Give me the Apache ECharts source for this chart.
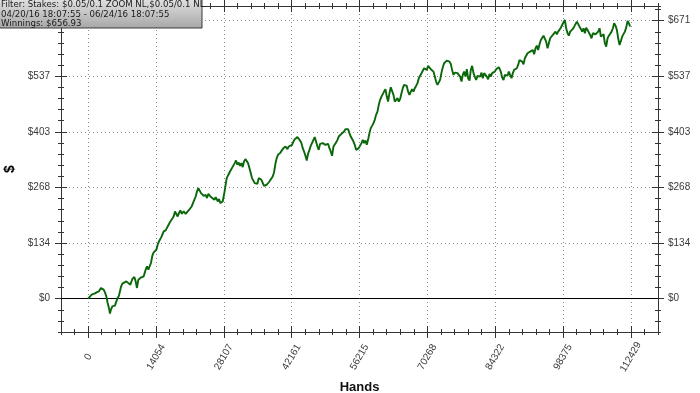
<!DOCTYPE html>
<html>
<head>
<meta charset="utf-8">
<script src="https://cdn.jsdelivr.net/npm/echarts@6/dist/echarts.min.js"></script>
<style>html,body{margin:0;padding:0;background:#fff;}#c{width:700px;height:393px;}</style>
</head>
<body>
<div id="c"></div>
<script>
// ---- data ----
const hands = [
0,166,725,1285,1762,2238,2653,2943,3212,3482,
3772,4041,4311,4518,4725,5015,5285,5554,5844,6114,
6383,6798,7088,7502,7917,8331,8746,9160,9575,9844,
10114,10404,10819,11233,11502,11917,12186,12476,12746,13015,
13305,13575,13844,14134,14404,14673,14963,15233,15647,16062,
16476,16746,17036,17305,17720,17989,18279,18549,18818,19108,
19378,19792,20207,20621,21036,21450,21865,22279,22549,22839,
23108,23378,23668,23937,24352,24621,24911,25326,25740,26155,
26424,26839,27108,27398,27875,28145,28435,28704,28974,29389,
29678,30010,30362,30632,30922,31191,31461,31751,32020,32290,
32580,32849,33119,33409,33678,33948,34238,34507,34777,35067,
35336,35606,35896,36165,36435,36725,36994,37264,37554,37968,
38238,38507,38797,39067,39336,39751,40041,40455,40870,41284,
41554,41968,42238,42528,42797,43067,43357,43626,43896,44186,
44455,44725,45015,45284,45554,45844,46113,46383,46673,46942,
47212,47502,47771,48041,48331,48600,48870,49160,49429,49699,
49989,50258,50528,50818,51087,51357,51647,51916,52186,52476,
52745,53015,53305,53574,53844,54134,54403,54673,54963,55232,
55502,55792,56061,56331,56621,56890,57160,57450,57719,57989,
58279,58548,58818,59108,59377,59647,59937,60206,60476,60766,
61035,61305,61595,61864,62134,62424,62693,62963,63253,63522,
63792,64082,64351,64621,64911,65180,65450,65740,66009,66279,
66569,66838,67108,67398,67667,67937,68227,68496,68766,69056,
69325,69595,69885,70154,70424,70714,70983,71253,71543,71812,
72082,72372,72641,72911,73201,73470,73740,74030,74299,74569,
74859,75128,75398,75688,75957,76227,76517,76786,77056,77346,
77615,77885,78175,78444,78714,79004,79273,79543,79833,80102,
80372,80662,80931,81201,81491,81760,82030,82320,82589,82859,
83149,83418,83688,83978,84247,84517,84807,85076,
85491,85760,86050,86320,86589,86879,87149,87418,87708,87978,
88247,88537,88807,89076,89366,89636,89905,90195,90465,90734,
91024,91294,91563,91853,92123,92392,92682,92952,93221,93511,
93781,94050,94340,94610,94879,95169,95439,95708,95998,96268,
96537,96827,97097,97366,97656,97926,98195,98485,98755,99024,
99314,99584,99853,100143,100413,100682,100972,101242,101511,101801,
102071,102340,102630,102900,103169,103459,103729,103998,104288,104558,
104827,105117,105387,105656,105946,106216,106485,106775,107045,107314,
107604,107874,108143,108433,108703,108972,109262,109532,109801,110091,
110361,110630,110920,111190,111459,111749,112019,112289
];
const winnings = [
0,1.7,9.6,12.1,15.2,17.6,25.8,28.2,21.7,15.2,
5.5,-10.4,-22.4,-36.2,-26.5,-18.6,-14.5,-16.9,-6.5,1.7,
7.2,28.2,36.2,33.8,41.7,37.9,33.8,47.5,52.3,41.7,
25.8,45.8,49.9,45.8,53.8,69.9,77.9,69.9,74.0,86.1,
103.7,111.6,114.0,118.1,130.2,138.1,140.6,150.2,162.3,164.7,
174.3,178.4,186.4,190.5,198.4,210.5,208.1,198.4,206.6,212.9,
204.9,210.5,204.9,210.5,216.3,222.5,234.6,246.6,258.7,266.9,
264.5,254.8,256.3,248.3,250.7,242.8,253.2,246.6,250.7,238.7,
245.2,234.6,240.4,230.7,234.6,250.7,270.8,291.0,294.9,306.9,
312.7,317.5,327.2,333.4,323.1,328.6,320.7,327.2,317.5,331.0,
336.8,335.1,327.2,315.1,303.1,291.0,286.9,278.9,282.8,277.3,
291.0,294.9,286.9,282.8,272.4,269.3,274.9,277.3,282.8,286.9,
294.9,304.5,325.5,339.2,347.2,351.3,355.1,363.3,367.2,360.9,
367.2,365.7,371.3,379.2,385.0,383.3,389.9,391.3,381.7,375.4,
363.3,355.1,344.8,333.4,349.6,359.2,368.9,371.3,383.3,389.9,
379.2,367.2,359.2,373.7,376.8,375.4,379.2,371.3,367.2,373.7,
363.3,355.1,344.8,367.2,367.2,376.8,383.3,391.3,393.0,397.8,
399.5,403.4,409.1,405.8,409.1,399.5,391.3,387.4,379.2,371.3,
359.2,355.1,363.3,367.2,375.4,383.3,375.4,381.7,371.3,383.3,
399.5,411.6,417.1,423.6,431.6,443.6,451.6,467.7,479.8,487.7,
483.9,499.8,505.6,487.7,475.7,495.9,510.4,508.0,491.8,475.7,
478.1,483.9,475.7,481.5,495.9,508.0,516.0,520.1,513.5,499.8,
491.8,499.8,505.6,499.8,508.0,513.5,520.1,532.1,536.0,544.2,
548.0,556.2,558.6,552.1,561.8,560.1,553.8,558.6,548.0,536.0,
523.9,516.0,518.4,528.0,545.6,558.6,568.3,564.2,574.5,577.9,
572.1,566.6,552.1,540.1,545.6,550.4,544.2,545.6,536.0,523.9,
540.1,548.0,536.0,553.8,532.1,526.3,552.1,561.8,544.2,536.0,
528.0,537.7,540.1,536.0,545.6,532.1,544.2,548.0,536.0,529.7,
542.5,536.0,544.2,540.1,548.0,553.8,556.2,558.6,
548.0,533.6,528.0,540.1,544.2,538.4,548.0,540.1,532.1,544.2,
552.1,548.0,556.2,564.2,576.2,580.3,572.1,565.9,580.3,584.2,
592.4,588.3,596.2,592.4,600.3,590.0,604.4,610.7,600.3,614.1,
624.4,628.5,634.8,638.2,620.4,604.4,616.5,628.5,632.4,636.5,
640.6,644.5,638.2,644.5,648.6,654.1,660.6,667.1,672.7,652.7,
640.6,634.8,644.5,640.6,651.0,656.5,658.9,668.6,672.7,656.5,
651.0,644.5,652.7,640.6,654.1,648.6,652.7,636.5,628.5,640.6,
644.5,638.2,634.8,644.5,652.7,632.4,628.5,638.2,616.5,608.3,
628.5,634.8,636.5,644.5,652.7,664.7,658.9,648.6,628.5,612.4,
622.0,632.4,636.5,644.5,654.1,670.3,664.7,656.93
];
const xTickValues = [0, 14053.625, 28107.25, 42160.875, 56214.5, 70268.125, 84321.75, 98375.375, 112429];
const xTickLabels = ['0','14054','28107','42161','56215','70268','84322','98375','112429'];
const yTickValues = [0, 134.2, 268.4, 402.6, 536.8, 671];
const yTickLabels = ['$0','$134','$268','$403','$537','$671'];
const titleLines = [
  'Filter: Stakes: $0.05/0.1 ZOOM NL,$0.05/0.1 NL',
  '04/20/16 18:07:55 - 06/24/16 18:07:55',
  'Winnings: $656.93'
];

// ---- axis extents ----
const X_MINOR = 2810.725, X_MIN = -2 * X_MINOR, X_MAX = 42 * X_MINOR;
const Y_MINOR = 26.84, Y_MIN = -3 * Y_MINOR, Y_MAX = 706.4;

const AX = '#333';
const LBL = '#3a3a3a';
const FONT = '"Liberation Sans", Arial, sans-serif';

function baseX(pos) {
  return { type:'value', position:pos, min:X_MIN, max:X_MAX,
    axisLine:{show:false,onZero:false}, axisTick:{show:false},
    axisLabel:{show:false}, splitLine:{show:false}, silent:true };
}
function baseY(pos) {
  return { type:'value', position:pos, min:Y_MIN, max:Y_MAX,
    axisLine:{show:false,onZero:false}, axisTick:{show:false},
    axisLabel:{show:false}, splitLine:{show:false}, silent:true };
}
function tickSet(base, pos, withLine) {
  const out = [];
  const a = base(pos);
  a.axisTick = {show:true, customValues: null, length:6, inside:false, lineStyle:{color:AX,width:1}};
  if (withLine) a.axisLine = {show:true,onZero:false,lineStyle:{color:AX,width:1}};
  out.push(a);
  const b = base(pos);
  b.axisTick = {show:true, customValues: null, length:6, inside:true, lineStyle:{color:AX,width:1}};
  out.push(b);
  const c = base(pos);
  c.axisTick = {show:true, length:3, inside:false, lineStyle:{color:AX,width:1}};
  out.push(c);
  const d = base(pos);
  d.axisTick = {show:true, length:3, inside:true, lineStyle:{color:AX,width:1}};
  out.push(d);
  return out;
}

// X axes
const xAxes = [];
const xb = tickSet(baseX, 'bottom', true);
const xt = tickSet(baseX, 'top', true);
[xb, xt].forEach(set => {
  set[0].axisTick.customValues = xTickValues;
  set[1].axisTick.customValues = xTickValues;
  set[2].interval = X_MINOR;
  set[3].interval = X_MINOR;
});
xb[0].axisLabel = {show:true, customValues:xTickValues, rotate:60, align:'center', verticalAlign:'middle',
  margin:25, fontSize:10, color:LBL, fontFamily:FONT,
  formatter: v => xTickLabels[Math.round(v / xTickValues[1])]};
xb[0].splitLine = {show:true, lineStyle:{color:'#888', width:1, type:[1,3]}};
xb[0].name = 'Hands';
xb[0].nameLocation = 'middle';
xb[0].nameGap = 48;
xb[0].nameTextStyle = {fontSize:13, fontWeight:'bold', color:'#111', fontFamily:FONT};
xAxes.push(...xb, ...xt);

// Y axes
const yAxes = [];
const yl = tickSet(baseY, 'left', true);
const yr = tickSet(baseY, 'right', true);
[yl, yr].forEach(set => {
  set[0].axisTick.customValues = yTickValues;
  set[1].axisTick.customValues = yTickValues;
  set[2].interval = Y_MINOR;
  set[3].interval = Y_MINOR;
});
yl[0].axisLabel = {show:true, customValues:yTickValues, margin:11, fontSize:10, color:LBL, fontFamily:FONT,
  formatter: v => yTickLabels[Math.round(v / yTickValues[1])]};
yl[0].splitLine = {show:true, lineStyle:{color:'#888', width:1, type:[1,3]}};
yl[0].name = '$';
yl[0].nameLocation = 'middle';
yl[0].nameGap = 42;
yl[0].nameRotate = 90;
yl[0].nameTextStyle = {fontSize:14, fontWeight:'bold', color:'#000', fontFamily:FONT};
yr[0].axisLabel = {show:true, customValues:yTickValues, margin:10, fontSize:10, color:LBL, fontFamily:FONT,
  formatter: v => yTickLabels[Math.round(v / yTickValues[1])]};
yr[0].name = '$';
yr[0].nameLocation = 'middle';
yr[0].nameGap = 36;
yr[0].nameRotate = 90;
yr[0].nameTextStyle = {fontSize:14, fontWeight:'bold', color:'#c0501a', fontFamily:FONT};
yAxes.push(...yl, ...yr);

const seriesData = hands.map((h, i) => [h, winnings[i]]);

const chart = echarts.init(document.getElementById('c'), null, {renderer:'canvas'});
chart.setOption({
  animation:false,
  backgroundColor:'#ffffff',
  grid:{left:61, right:42, top:6, bottom:61, containLabel:false, outerBoundsMode:'none'},
  xAxis:xAxes,
  yAxis:yAxes,
  series:[{
    type:'line', xAxisIndex:0, yAxisIndex:0, data:seriesData,
    showSymbol:false, symbol:'none', sampling:null, z:5,
    lineStyle:{color:'#0a670a', width:1.9},
    markLine:{silent:true, symbol:'none', animation:false, label:{show:false},
      lineStyle:{color:'#000', width:1, type:'solid'}, data:[{yAxis:0}]}
  }],
  graphic:[
    {type:'rect', z:100, shape:{x:-1, y:-1, width:203, height:29},
      style:{fill:new echarts.graphic.LinearGradient(0,0,0,1,[{offset:0,color:'#e2e2e2'},{offset:1,color:'#a6a6a6'}]),
      stroke:'#3a3a3a', lineWidth:1}},
    {type:'text', z:101, x:1, y:0.5, style:{text:titleLines[0], font:'8.6px "DejaVu Sans"', fill:'#1a1a1a', verticalAlign:'top'}},
    {type:'text', z:101, x:1, y:10, style:{text:titleLines[1], font:'8.6px "DejaVu Sans"', fill:'#1a1a1a', verticalAlign:'top'}},
    {type:'text', z:101, x:1, y:19.5, style:{text:titleLines[2], font:'8.6px "DejaVu Sans"', fill:'#1a1a1a', verticalAlign:'top'}}
  ]
});
</script>
</body>
</html>
